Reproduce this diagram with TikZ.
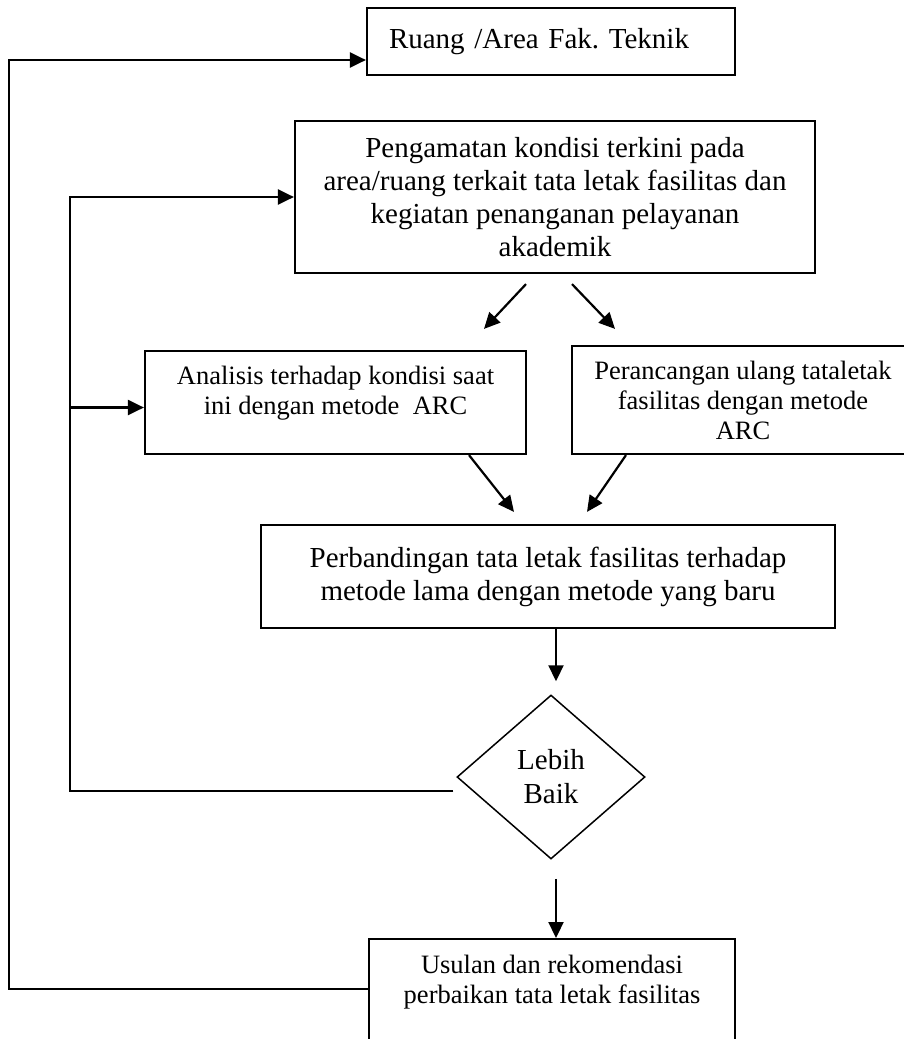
\documentclass[tikz,border=0pt]{standalone}
\usepackage{fontspec}
\setmainfont{Liberation Serif}
\usetikzlibrary{shapes.geometric,arrows.meta}
\frenchspacing
\begin{document}
\begin{tikzpicture}[x=1pt,y=-1pt,line width=2.2pt,>={Triangle[length=16pt,width=15pt]},
  main node/.style={rectangle,draw,font=\fontsize{29}{33}\selectfont,align=center,inner sep=0pt},
  small node/.style={main node,font=\fontsize{26.5}{30}\selectfont},
  test node/.style={diamond,draw,font=\fontsize{29}{34}\selectfont,align=center,inner sep=0pt,line width=1.5pt}]
  \useasboundingbox (0,0) rectangle (903,1039);
  \node[main node,minimum width=368pt,minimum height=67pt,text width=324pt,align=left] (1) at (551,41.5) {Ruang /Area Fak. Teknik};
  \node[main node,minimum width=520pt,minimum height=152pt] (2) at (555,197) {Pengamatan kondisi terkini pada\\area/ruang terkait tata letak fasilitas dan\\kegiatan penanganan pelayanan\\akademik};
  \node[small node,minimum width=381pt,minimum height=103pt,text depth=24pt] (3) at (335.5,402.5) {Analisis terhadap kondisi saat\\ini dengan metode\ \ ARC};
  \node[small node,minimum width=342pt,minimum height=108pt] (4) at (743,400) {Perancangan ulang tataletak\\fasilitas dengan metode\\ARC};
  \node[main node,minimum width=574pt,minimum height=103pt] (5) at (548,576.5) {Perbandingan tata letak fasilitas terhadap\\metode lama dengan metode yang baru};
  \node[test node,minimum width=188pt,minimum height=164pt] (6) at (551,777) {Lebih\\Baik};
  \node[small node,minimum width=366pt,anchor=north,inner ysep=16pt,text depth=120pt] (7) at (552,938) {Usulan dan rekomendasi\\perbaikan tata letak fasilitas};
  \path[->] ([xshift=-29pt,yshift=-10pt]2.south) edge ([xshift=148.5pt,yshift=21pt]3.north);
  \path[->] ([xshift=17pt,yshift=-10pt]2.south) edge ([xshift=-128pt,yshift=16pt]4.north);
  \path[->] ([xshift=133.5pt]3.south) edge ([xshift=-34pt,yshift=12pt]5.north);
  \path[->] ([xshift=-117pt]4.south) edge ([xshift=39pt,yshift=12pt]5.north);
  \path[->] ([xshift=8pt]5.south) edge ([xshift=5pt,yshift=13pt]6.north);
  \path[->] ([xshift=5pt,yshift=-19pt]6.south) edge ([xshift=4pt]7.north);
  \draw[->] ([xshift=-3pt,yshift=-14pt]6.west) -| ([xshift=-224pt]2.west) -- (2.west);
  \draw[->] ([xshift=-74pt,yshift=-5pt]3.west) -- ([yshift=-5pt]3.west);
  \draw[->] ([yshift=-51pt]7.north west) -| ([xshift=-357pt,yshift=-18.5pt]1.west) -- ([yshift=-18.5pt]1.west);
\end{tikzpicture}
\end{document}
